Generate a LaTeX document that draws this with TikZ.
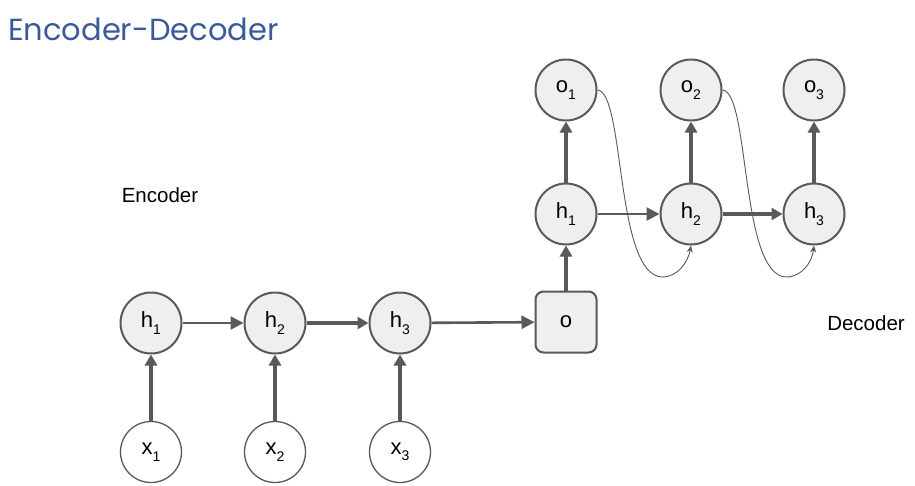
\documentclass[tikz,border=0pt]{standalone}
\usepackage{fontspec}
\setmainfont{Liberation Sans}
\newfontfamily\titlefont{Poppins}
\usetikzlibrary{arrows.meta}
\definecolor{edge}{HTML}{595959}
\definecolor{cellfill}{HTML}{EFEFEF}
\definecolor{titleblue}{HTML}{3C5A9A}
\newcommand{\lbl}[2]{{\fontsize{22}{22}\selectfont #1\raisebox{-0.55ex}{\fontsize{14}{14}\selectfont #2}}}
\begin{document}
\begin{tikzpicture}[x=1pt,y=-1pt,
  cell/.style={circle,draw=edge,line width=2pt,fill=cellfill,minimum size=61pt,inner sep=0pt},
  inp/.style={circle,draw=edge,line width=1.3pt,fill=white,minimum size=61pt,inner sep=0pt},
  outbox/.style={rectangle,rounded corners=8pt,draw=edge,line width=2pt,fill=cellfill,minimum size=61pt,inner sep=0pt},
  thick arrow/.style={draw=edge,line width=3.4pt,-{Triangle[length=11pt,width=12pt]}},
  thin arrow/.style={draw=edge,line width=2.6pt,-{Triangle[length=13pt,width=13pt]}},
  skip/.style={draw=edge,line width=0.9pt,-{Stealth[length=7pt,width=6pt]}}]
\useasboundingbox (0,0) rectangle (915,485);
\node[anchor=base west,text=titleblue,inner sep=0pt] (title) at (8,40) {\titlefont\fontsize{30.5}{30.5}\selectfont Encoder-Decoder};
\node (enc) at (160,195) {\fontsize{20.5}{20.5}\selectfont Encoder};
\node (dec) at (866,323) {\fontsize{20.5}{20.5}\selectfont Decoder};
% encoder
\node[cell] (eh1) at (151,323) {\lbl{h}{1}};
\node[cell] (eh2) at (275,323) {\lbl{h}{2}};
\node[cell] (eh3) at (400,323) {\lbl{h}{3}};
\node[inp] (x1) at (151,452) {\lbl{x}{1}};
\node[inp] (x2) at (275,452) {\lbl{x}{2}};
\node[inp] (x3) at (400,452) {\lbl{x}{3}};
\node[outbox] (o) at (566,322) {\fontsize{22}{22}\selectfont o};
% decoder
\node[cell] (dh1) at (566,214) {\lbl{h}{1}};
\node[cell] (dh2) at (691,214) {\lbl{h}{2}};
\node[cell] (dh3) at (814,214) {\lbl{h}{3}};
\node[cell] (o1) at (566,90) {\lbl{o}{1}};
\node[cell] (o2) at (691,90) {\lbl{o}{2}};
\node[cell] (o3) at (814,90) {\lbl{o}{3}};
% arrows
\draw[thick arrow] (x1) -- (eh1);
\draw[thick arrow] (x2) -- (eh2);
\draw[thick arrow] (x3) -- (eh3);
\draw[thin arrow] (eh1) -- (eh2);
\draw[thick arrow] (eh2) -- (eh3);
\draw[thin arrow] (eh3) -- (o);
\draw[thick arrow] (o) -- (dh1);
\draw[thick arrow] (dh1) -- (o1);
\draw[thick arrow] (dh2) -- (o2);
\draw[thick arrow] (dh3) -- (o3);
\draw[thin arrow] (dh1) -- (dh2);
\draw[thick arrow] (dh2) -- (dh3);
\draw[skip] (o1.east) .. controls (625,92) and (615,275) .. (662,277) .. controls (678,277) and (688,262) .. (dh2.south);
\draw[skip] (o2.east) .. controls (750,92) and (740,275) .. (786,277) .. controls (802,277) and (812,262) .. (dh3.south);
\end{tikzpicture}
\end{document}
